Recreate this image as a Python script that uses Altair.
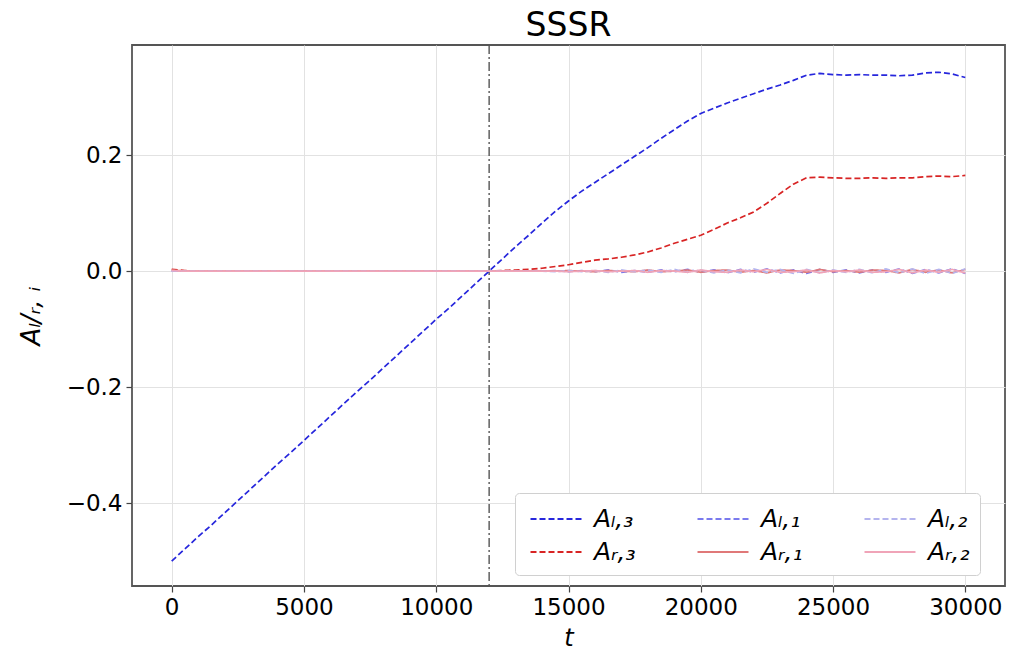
import altair as alt
import pandas as pd

t = [0, 500, 1000, 1500, 2000, 2500, 3000, 3500, 4000, 4500, 5000, 5500, 6000, 6500,
     7000, 7500, 8000, 8500, 9000, 9500, 10000, 10500, 11000, 11500, 12000, 12500,
     13000, 13500, 14000, 14500, 15000, 15500, 16000, 16500, 17000, 17500, 18000,
     18500, 19000, 19500, 20000, 20500, 21000, 21500, 22000, 22500, 23000, 23500,
     24000, 24500, 25000, 25500, 26000, 26500, 27000, 27500, 28000, 28500, 29000,
     29500, 30000]

a_l3 = [-0.500, -0.479, -0.458, -0.438, -0.417, -0.396, -0.375, -0.354, -0.333, -0.313,
        -0.292, -0.271, -0.250, -0.229, -0.208, -0.188, -0.167, -0.146, -0.125, -0.104,
        -0.083, -0.063, -0.042, -0.021, 0.000, 0.021, 0.042, 0.062, 0.083, 0.103,
        0.121, 0.138, 0.153, 0.168, 0.183, 0.198, 0.213, 0.229, 0.244, 0.259,
        0.272, 0.281, 0.290, 0.298, 0.306, 0.314, 0.321, 0.329, 0.338, 0.341,
        0.339, 0.338, 0.339, 0.338, 0.338, 0.337, 0.338, 0.342, 0.343, 0.340, 0.334]

a_r3 = [0.003, 0.001, 0.000, 0.000, 0.000, 0.000, 0.000, 0.000, 0.000, 0.000,
        0.000, 0.000, 0.000, 0.000, 0.000, 0.000, 0.000, 0.000, 0.000, 0.000,
        0.000, 0.000, 0.000, 0.000, 0.000, 0.001, 0.002, 0.003, 0.005, 0.008,
        0.011, 0.015, 0.019, 0.021, 0.024, 0.028, 0.033, 0.040, 0.048, 0.055,
        0.062, 0.072, 0.083, 0.092, 0.102, 0.117, 0.134, 0.150, 0.161, 0.162,
        0.161, 0.160, 0.160, 0.161, 0.160, 0.161, 0.161, 0.163, 0.164, 0.163, 0.165]

a_l1 = [0.000, 0.000, 0.000, 0.000, 0.000, 0.000, 0.000, 0.000, 0.000, 0.000,
        0.000, 0.000, 0.000, 0.000, 0.000, 0.000, 0.000, 0.000, 0.000, 0.000,
        0.000, 0.000, 0.000, 0.000, 0.000, 0.000, 0.000, 0.000, 0.000, 0.001,
        -0.001, 0.001, -0.001, 0.002, -0.002, 0.001, -0.002, 0.002, -0.001, 0.003,
        -0.002, 0.002, -0.003, 0.003, -0.002, 0.004, -0.003, 0.002, -0.004, 0.003,
        -0.002, 0.002, -0.003, 0.002, -0.002, 0.004, -0.004, 0.003, -0.003, 0.004, -0.004]

a_l2 = [0.000, 0.000, 0.000, 0.000, 0.000, 0.000, 0.000, 0.000, 0.000, 0.000,
        0.000, 0.000, 0.000, 0.000, 0.000, 0.000, 0.000, 0.000, 0.000, 0.000,
        0.000, 0.000, 0.000, 0.000, 0.000, 0.000, 0.000, 0.000, 0.000, -0.001,
        0.001, -0.001, 0.001, -0.002, 0.002, -0.001, 0.002, -0.002, 0.003, -0.002,
        0.002, -0.003, 0.002, -0.003, 0.004, -0.002, 0.003, -0.004, 0.003, -0.003,
        0.002, -0.002, 0.003, -0.003, 0.004, -0.003, 0.004, -0.004, 0.003, -0.004, 0.004]

a_r1 = [0.002, 0.000, 0.000, 0.000, 0.000, 0.000, 0.000, 0.000, 0.000, 0.000,
        0.000, 0.000, 0.000, 0.000, 0.000, 0.000, 0.000, 0.000, 0.000, 0.000,
        0.000, 0.000, 0.000, 0.000, 0.000, 0.000, 0.000, 0.000, 0.000, 0.000,
        0.001, 0.000, -0.001, 0.001, 0.000, -0.001, 0.002, -0.001, 0.000, 0.002,
        -0.002, 0.001, 0.002, -0.002, 0.001, -0.003, 0.002, 0.001, -0.002, 0.003,
        -0.001, 0.001, -0.002, 0.002, 0.001, -0.003, 0.003, -0.002, 0.002, -0.003, 0.003]

a_r2 = [0.001, 0.000, 0.000, 0.000, 0.000, 0.000, 0.000, 0.000, 0.000, 0.000,
        0.000, 0.000, 0.000, 0.000, 0.000, 0.000, 0.000, 0.000, 0.000, 0.000,
        0.000, 0.000, 0.000, 0.000, 0.000, 0.000, 0.000, 0.000, 0.000, 0.000,
        -0.001, 0.000, 0.001, -0.001, 0.000, 0.001, -0.002, 0.001, 0.000, -0.002,
        0.002, -0.001, -0.002, 0.002, -0.001, 0.003, -0.002, -0.001, 0.002, -0.003,
        0.001, -0.001, 0.002, -0.002, -0.001, 0.003, -0.003, 0.002, -0.002, 0.003, -0.003]

# legend is filled column by column: (A_L3, A_R3), (A_L1, A_R1), (A_L2, A_R2)
series_names = ["Aₗ,₃", "Aᵣ,₃", "Aₗ,₁", "Aᵣ,₁", "Aₗ,₂", "Aᵣ,₂"]
series_values = [a_l3, a_r3, a_l1, a_r1, a_l2, a_r2]
series_colors = ["#2626dc", "#d82424", "#7a7aee", "#e07878", "#b4b4ee", "#f0a4b8"]
series_dash = [[6, 3], [6, 3], [6, 3], [1, 0], [6, 3], [1, 0]]
series_opacity = [1.0, 1.0, 0.95, 0.95, 0.95, 0.95]
marker_t = [12000]

rows = []
for name, vals in zip(series_names, series_values):
    for tt, v in zip(t, vals):
        rows.append({"t": tt, "A": v, "series": name})
df = pd.DataFrame(rows)

xscale = alt.Scale(domain=[-1500, 31500], nice=False, zero=False)
yscale = alt.Scale(domain=[-0.543, 0.39], nice=False, zero=False)

lines = alt.Chart(df).mark_line(strokeWidth=1.7).encode(
    x=alt.X("t:Q", scale=xscale,
            axis=alt.Axis(values=[0, 5000, 10000, 15000, 20000, 25000, 30000], format="d",
                          title="t", titleFontStyle="italic", titleFontWeight="normal",
                          titleFontSize=24, titlePadding=7)),
    y=alt.Y("A:Q", scale=yscale,
            axis=alt.Axis(values=[-0.4, -0.2, 0.0, 0.2], format=".1f",
                          title="Aₗ/ᵣ, ᵢ", titleFontStyle="italic", titleFontWeight="normal",
                          titleFontSize=26, titlePadding=22)),
    color=alt.Color("series:N",
                    scale=alt.Scale(domain=series_names, range=series_colors),
                    legend=alt.Legend(title=None, orient="none", legendX=383, legendY=448,
                                      columns=3, symbolType="M-0.7,0L2.7,0", symbolSize=900,
                                      symbolStrokeWidth=1.8, labelFontSize=25,
                                      labelFontStyle="italic", labelFont="DejaVu Sans",
                                      columnPadding=56, rowPadding=4, labelOffset=37,
                                      padding=10, strokeColor="#d0d0d0", fillColor="white",
                                      cornerRadius=4, labelLimit=200)),
    strokeDash=alt.StrokeDash("series:N",
                              scale=alt.Scale(domain=series_names, range=series_dash),
                              legend=None),
    opacity=alt.Opacity("series:N",
                        scale=alt.Scale(domain=series_names, range=series_opacity),
                        legend=None),
    detail="series:N",
)

vline = alt.Chart(pd.DataFrame({"t": marker_t})).mark_rule(
    color="#555555", strokeWidth=1.4, strokeDash=[9, 3, 2, 3]
).encode(x=alt.X("t:Q", scale=xscale))

chart = alt.layer(vline, lines).properties(
    width=873, height=541,
    title=alt.TitleParams("SSSR", fontSize=33, font="DejaVu Sans", fontWeight="normal",
                          color="black", offset=1),
    autosize=alt.AutoSizeParams(type="none"),
    padding={"left": 132, "top": 45, "right": 15, "bottom": 67},
).configure_view(
    stroke="#555555", strokeWidth=1.8
).configure_axis(
    labelFont="DejaVu Sans", labelFontSize=23, labelColor="black",
    titleFont="DejaVu Sans", titleColor="black",
    gridColor="#e2e2e2", gridWidth=1, domain=False,
    tickColor="#444444", tickSize=6, tickWidth=1.2, labelPadding=4,
).configure_legend(
    labelColor="black"
)

chart.save("out.html", embed_options={"renderer": "svg", "actions": False})
